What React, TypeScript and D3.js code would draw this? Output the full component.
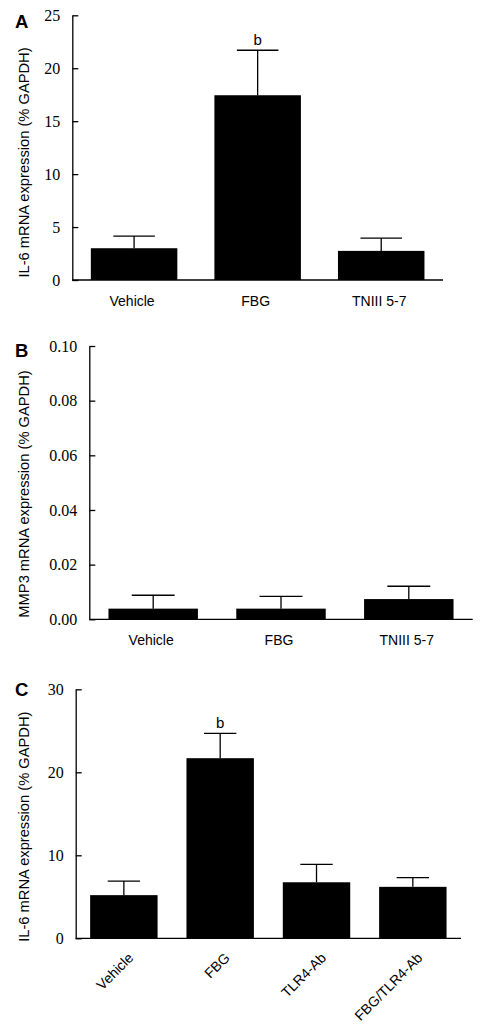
import React, { useEffect, useRef } from "react";
import * as d3 from "d3";

// ---------- data ----------
const categoriesAB = ["Vehicle", "FBG", "TNIII 5-7"];
const il6MeansA = [3.0, 17.45, 2.75];
const il6ErrA = [1.15, 4.25, 1.2];
const sigA = ["", "b", ""];
const ticksA = [0, 5, 10, 15, 20, 25];

const mmp3MeansB = [0.0039, 0.0039, 0.0074];
const mmp3ErrB = [0.0049, 0.0045, 0.0047];
const sigB = ["", "", ""];
const ticksB = [0, 0.02, 0.04, 0.06, 0.08, 0.1];

const categoriesC = ["Vehicle", "FBG", "TLR4-Ab", "FBG/TLR4-Ab"];
const il6MeansC = [5.2, 21.7, 6.75, 6.2];
const il6ErrC = [1.7, 3.0, 2.15, 1.1];
const sigC = ["", "b", "", ""];
const ticksC = [0, 10, 20, 30];

const SANS = "'Liberation Sans', Arial, sans-serif";
const SERIF = "'Liberation Serif', 'Times New Roman', serif";

type PanelProps = {
  letter: string;
  title: string;
  cats: string[];
  means: number[];
  errs: number[];
  sig: string[];
  ticks: number[];
  fmt: (v: number) => string;
  x0: number;
  x1: number;
  yTop: number;
  yBottom: number;
  letterY: number;
  titleY: number;
  rotateLabels?: boolean;
};

function Panel(p: PanelProps) {
  const ref = useRef<SVGGElement>(null);
  useEffect(() => {
    const g = d3.select(ref.current!);
    g.selectAll("*").remove();
    const x = d3
      .scaleBand<string>()
      .domain(p.cats)
      .range([p.x0, p.x1])
      .paddingInner(0.3)
      .paddingOuter(0.15);
    const y = d3
      .scaleLinear()
      .domain([0, p.ticks[p.ticks.length - 1]])
      .range([p.yBottom, p.yTop]);
    const bw = x.bandwidth();

    // bars
    g.selectAll("rect.bar")
      .data(p.cats)
      .enter()
      .append("rect")
      .attr("x", (c) => x(c)!)
      .attr("width", bw)
      .attr("y", (_c, i) => y(p.means[i]))
      .attr("height", (_c, i) => y(0) - y(p.means[i]))
      .attr("fill", "#000");

    // error bars (upper only)
    p.cats.forEach((c, i) => {
      const cx = x(c)! + bw / 2;
      const top = y(p.means[i] + p.errs[i]);
      g.append("line")
        .attr("x1", cx).attr("x2", cx)
        .attr("y1", y(p.means[i])).attr("y2", top)
        .attr("stroke", "#000").attr("stroke-width", 1.3);
      g.append("line")
        .attr("x1", cx - bw * 0.24).attr("x2", cx + bw * 0.24)
        .attr("y1", top).attr("y2", top)
        .attr("stroke", "#000").attr("stroke-width", 1.3);
      if (p.sig[i]) {
        g.append("text")
          .attr("x", cx).attr("y", top - 5.5)
          .attr("text-anchor", "middle")
          .attr("font-family", SANS).attr("font-size", 15)
          .text(p.sig[i]);
      }
    });

    // y axis
    const yAxis = d3
      .axisLeft(y)
      .tickValues(p.ticks)
      .tickFormat((d) => p.fmt(d as number))
      .tickSizeInner(-6)
      .tickSizeOuter(0)
      .tickPadding(12);
    const ga = g.append("g").attr("transform", `translate(${p.x0},0)`).call(yAxis);
    ga.select(".domain").attr("stroke", "#000").attr("stroke-width", 1.3);
    ga.selectAll(".tick line").attr("stroke", "#000").attr("stroke-width", 1.3);
    ga.selectAll(".tick text")
      .attr("font-family", SERIF)
      .attr("font-size", 16)
      .attr("fill", "#000");

    // x axis line
    g.append("line")
      .attr("x1", p.x0).attr("x2", p.x1)
      .attr("y1", y(0)).attr("y2", y(0))
      .attr("stroke", "#000").attr("stroke-width", 1.3);

    // category labels
    p.cats.forEach((c) => {
      const cx = x(c)! + bw / 2;
      if (p.rotateLabels) {
        g.append("text")
          .attr("transform", `translate(${cx + 3},${y(0) + 13}) rotate(-45)`)
          .attr("text-anchor", "end")
          .attr("dy", "0.75em")
          .attr("font-family", SANS).attr("font-size", 14)
          .text(c);
      } else {
        g.append("text")
          .attr("x", cx - 2).attr("y", y(0) + 26)
          .attr("text-anchor", "middle")
          .attr("font-family", SANS).attr("font-size", 14)
          .text(c);
      }
    });

    // y title
    g.append("text")
      .attr("transform", `translate(29,${p.titleY}) rotate(-90)`)
      .attr("text-anchor", "middle")
      .attr("font-family", SANS).attr("font-size", 14.7)
      .text(p.title);

    // panel letter
    g.append("text")
      .attr("x", 15).attr("y", p.letterY)
      .attr("font-family", SANS).attr("font-weight", "bold").attr("font-size", 18.5)
      .text(p.letter);
  }, []);
  return <g ref={ref} />;
}

export default function App() {
  return (
    <svg
      width={482}
      height={1029}
      style={{ position: "absolute", left: 0, top: 0, background: "#fff" }}
    >
      <rect x={0} y={0} width={482} height={1029} fill="#fff" />
      <Panel
        letter="A"
        title="IL-6 mRNA expression (% GAPDH)"
        cats={categoriesAB}
        means={il6MeansA}
        errs={il6ErrA}
        sig={sigA}
        ticks={ticksA}
        fmt={(v) => d3.format("d")(v)}
        x0={72.3}
        x1={443}
        yTop={15.3}
        yBottom={280}
        letterY={28.3}
        titleY={162.5}
      />
      <Panel
        letter="B"
        title="MMP3 mRNA expression (% GAPDH)"
        cats={categoriesAB}
        means={mmp3MeansB}
        errs={mmp3ErrB}
        sig={sigB}
        ticks={ticksB}
        fmt={(v) => d3.format(".2f")(v)}
        x0={89.3}
        x1={472.7}
        yTop={346}
        yBottom={619.3}
        letterY={356.7}
        titleY={494}
      />
      <Panel
        letter="C"
        title="IL-6 mRNA expression (% GAPDH)"
        cats={categoriesC}
        means={il6MeansC}
        errs={il6ErrC}
        sig={sigC}
        ticks={ticksC}
        fmt={(v) => d3.format("d")(v)}
        x0={75.7}
        x1={461}
        yTop={689.3}
        yBottom={938.3}
        letterY={696}
        titleY={826.7}
        rotateLabels
      />
    </svg>
  );
}
